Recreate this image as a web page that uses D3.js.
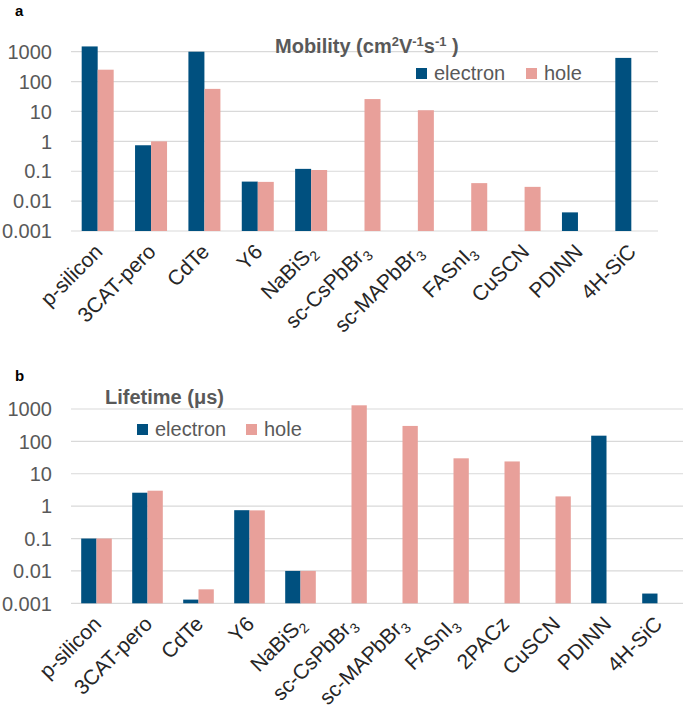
<!DOCTYPE html>
<html>
<head>
<meta charset="utf-8">
<script src="https://cdn.jsdelivr.net/npm/d3@7"></script>
<style>
    body { margin: 0; background: #fff; }
    svg { font-family: "Liberation Sans", Arial, sans-serif; }
    .grid { stroke: #d9d9d9; stroke-width: 1.2; }
    .tick-label { fill: #595959; font-size: 20px; }
    .cat-label { fill: #262626; font-size: 21px; }
    .title { fill: #595959; font-size: 20px; font-weight: bold; }
    .legend { fill: #595959; font-size: 20px; }
    .panel { fill: #000; font-size: 15px; font-weight: bold; }
</style>
</head>
<body>
<div id="chart"></div>
<script>
// panel a: mobility (cm2 V-1 s-1), "_" marks a subscript
const mobilityCategories = ["p-silicon", "3CAT-pero", "CdTe", "Y6", "NaBiS_2", "sc-CsPbBr_3",
    "sc-MAPbBr_3", "FASnI_3", "CuSCN", "PDINN", "4H-SiC"];
const mobilityElectron = [1500, 0.74, 1000, 0.045, 0.12, null, null, null, null, 0.0042, 620];
const mobilityHole = [250, 1, 57, 0.044, 0.11, 26, 11, 0.04, 0.03, null, null];

// panel b: lifetime (us)
const lifetimeCategories = ["p-silicon", "3CAT-pero", "CdTe", "Y6", "NaBiS_2", "sc-CsPbBr_3",
    "sc-MAPbBr_3", "FASnI_3", "2PACz", "CuSCN", "PDINN", "4H-SiC"];
const lifetimeElectron = [0.1, 2.6, 0.0013, 0.75, 0.01, null, null, null, null, null, 150, 0.002];
const lifetimeHole = [0.1, 3, 0.0027, 0.74, 0.01, 1300, 300, 30, 24, 2, null, null];

const yTicks = [0.001, 0.01, 0.1, 1, 10, 100, 1000];
const seriesNames = ["electron", "hole"];
const seriesColors = ["#00507f", "#e8a09a"];

const width = 685;
const height = 715;

const svg = d3.select("#chart")
    .append("svg")
    .attr("width", width)
    .attr("height", height);

const addLabel = (sel, label) => {
    const parts = label.split("_");
    sel.append("tspan").text(parts[0]);
    if (parts.length > 1) {
        sel.append("tspan")
            .attr("dy", 5)
            .attr("font-size", "14px")
            .text(parts[1]);
    }
};

const drawPanel = opts => {
    const { categories, electron, hole, left, right, top, bottom, barWidth } = opts;

    const x = d3.scaleBand()
        .domain(categories)
        .range([left, right]);

    const y = d3.scaleLog()
        .domain([0.001, 1000])
        .range([bottom, top]);

    const g = svg.append("g");

    g.selectAll("line.grid")
        .data(yTicks)
        .join("line")
        .attr("class", "grid")
        .attr("x1", left)
        .attr("x2", right)
        .attr("y1", d => y(d))
        .attr("y2", d => y(d));

    g.selectAll("text.tick-label")
        .data(yTicks)
        .join("text")
        .attr("class", "tick-label")
        .attr("x", left - 19)
        .attr("y", d => y(d))
        .attr("dy", "0.36em")
        .attr("text-anchor", "end")
        .text(d => d3.format("~g")(d));

    [electron, hole].forEach((values, s) => {
        g.selectAll(null)
            .data(values.map((v, i) => ({ v, c: categories[i] })).filter(d => d.v !== null))
            .join("rect")
            .attr("x", d => x(d.c) + x.bandwidth() / 2 - barWidth + s * barWidth)
            .attr("y", d => y(d.v))
            .attr("width", barWidth)
            .attr("height", d => bottom - y(d.v))
            .attr("fill", seriesColors[s]);
    });

    categories.forEach(c => {
        const t = g.append("text")
            .attr("class", "cat-label")
            .attr("text-anchor", "end")
            .attr("transform", `translate(${x(c) + x.bandwidth() / 2 + 6},${bottom + 22}) rotate(-45)`);
        addLabel(t, c);
    });

    return g;
};

const addLegend = (lx, ly, gap) => {
    seriesNames.forEach((name, i) => {
        const ox = lx + i * gap;
        svg.append("rect")
            .attr("x", ox)
            .attr("y", ly - 12)
            .attr("width", 11)
            .attr("height", 11)
            .attr("fill", seriesColors[i]);
        svg.append("text")
            .attr("class", "legend")
            .attr("x", ox + 18)
            .attr("y", ly)
            .text(name);
    });
};

// panel a
svg.append("text").attr("class", "panel").attr("x", 15).attr("y", 16).text("a");

drawPanel({
    categories: mobilityCategories,
    electron: mobilityElectron,
    hole: mobilityHole,
    left: 71,
    right: 658,
    top: 51.7,
    bottom: 231,
    barWidth: 16
});

const titleA = svg.append("text")
    .attr("class", "title")
    .attr("x", 275)
    .attr("y", 53);
titleA.append("tspan").text("Mobility (cm");
titleA.append("tspan").attr("dy", -7).attr("font-size", "13px").text("2");
titleA.append("tspan").attr("dy", 7).text("V");
titleA.append("tspan").attr("dy", -7).attr("font-size", "13px").text("-1");
titleA.append("tspan").attr("dy", 7).text("s");
titleA.append("tspan").attr("dy", -7).attr("font-size", "13px").text("-1");
titleA.append("tspan").attr("dy", 7).text(" )");

addLegend(416, 80, 110);

// panel b
svg.append("text").attr("class", "panel").attr("x", 15).attr("y", 381).text("b");

drawPanel({
    categories: lifetimeCategories,
    electron: lifetimeElectron,
    hole: lifetimeHole,
    left: 71,
    right: 683,
    top: 409,
    bottom: 603.3,
    barWidth: 15.3
});

svg.append("text")
    .attr("class", "title")
    .attr("x", 105)
    .attr("y", 404)
    .text("Lifetime (\u03bcs)");

addLegend(137, 436, 109);
</script>
</body>
</html>
